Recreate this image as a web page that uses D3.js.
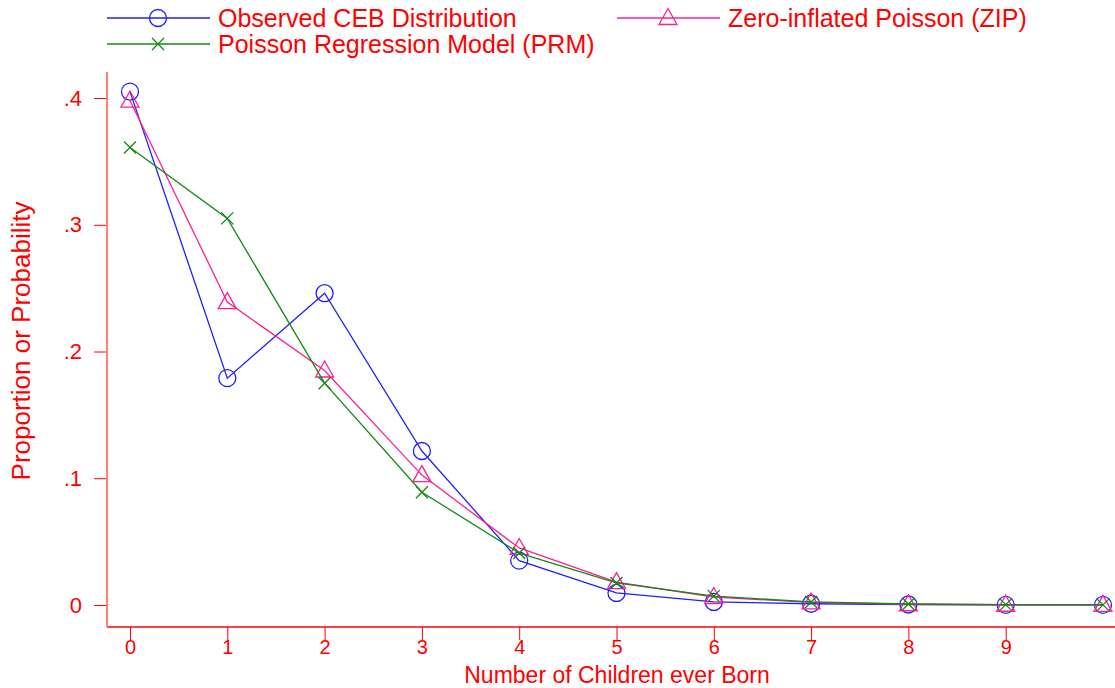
<!DOCTYPE html>
<html>
<head>
<meta charset="utf-8">
<script src="https://cdnjs.cloudflare.com/ajax/libs/d3/7.8.5/d3.min.js"></script>
<style>
  body { margin: 0; background: #fff; }
  text { font-family: "Liberation Sans", Arial, sans-serif; fill: #ff0000; }
</style>
</head>
<body>
<svg id="chart" width="1115" height="688"></svg>
<script>
// number of children ever born
const children = [0, 1, 2, 3, 4, 5, 6, 7, 8, 9, 10];
const observed = [0.405, 0.179, 0.246, 0.1215, 0.035, 0.0095, 0.0024, 0.001, 0.0004, 0.0001, 0.0001];
const zip      = [0.398, 0.239, 0.185, 0.1025, 0.045, 0.018, 0.0063, 0.002, 0.0006, 0.0002, 0.0001];
const prm      = [0.361, 0.305, 0.175, 0.089, 0.041, 0.0174, 0.007, 0.0024, 0.0008, 0.0003, 0.0001];
const xTicks = [0, 1, 2, 3, 4, 5, 6, 7, 8, 9];
const yTicks = [0, 0.1, 0.2, 0.3, 0.4];

const series = [
    { name: "Observed CEB Distribution", values: observed, color: "#2020ff", marker: "circle" },
    { name: "Zero-inflated Poisson (ZIP)", values: zip, color: "#ff1f8f", marker: "triangle" },
    { name: "Poisson Regression Model (PRM)", values: prm, color: "#138a13", marker: "x" }
];

const svg = d3.select("#chart");

const x = d3.scaleLinear().domain([0, 10]).range([130, 1103]);
const y = d3.scaleLinear().domain([0, 0.4]).range([605, 98]);

const axisColor = "#ff7f7f";

// axes
const xAxis = svg.append("g")
    .attr("transform", "translate(0,627)")
    .call(d3.axisBottom(x).tickValues(xTicks).tickSize(13).tickPadding(0).tickFormat(d3.format("d")));
xAxis.select(".domain").remove();
svg.append("line")
    .attr("x1", 107).attr("x2", 1115).attr("y1", 627).attr("y2", 627)
    .attr("stroke", "#ff0000").attr("stroke-width", 1.5);

const yAxis = svg.append("g")
    .attr("transform", "translate(107,0)")
    .call(d3.axisLeft(y).tickValues(yTicks).tickSize(13).tickPadding(12)
        .tickFormat(d => d === 0 ? "0" : d3.format(".1f")(d).replace(/^0/, "")));
yAxis.select(".domain").remove();
svg.append("line")
    .attr("x1", 107).attr("x2", 107).attr("y1", 72).attr("y2", 627)
    .attr("stroke", axisColor).attr("stroke-width", 2);

svg.selectAll(".tick line").attr("stroke", "#ff0000").attr("stroke-width", 1);
svg.selectAll(".tick text").style("font-size", "22px").attr("fill", "#ff0000");
xAxis.selectAll(".tick text").style("font-size", "20px");

// axis titles
svg.append("text")
    .attr("x", 617).attr("y", 683)
    .attr("text-anchor", "middle")
    .style("font-size", "23px")
    .text("Number of Children ever Born");

svg.append("text")
    .attr("transform", "translate(30,341) rotate(-90)")
    .attr("text-anchor", "middle")
    .style("font-size", "26px")
    .text("Proportion or Probability");

function drawMarker(g, type, color) {
    if (type === "circle") {
        g.append("circle").attr("r", 8.5)
            .attr("fill", "none").attr("stroke", color).attr("stroke-width", 1.3);
    } else if (type === "triangle") {
        g.append("path").attr("d", "M0,-9.5L9,6.5L-9,6.5Z")
            .attr("fill", "none").attr("stroke", color).attr("stroke-width", 1.3);
    } else {
        g.append("path").attr("d", "M-6,-6L6,6M-6,6L6,-6")
            .attr("fill", "none").attr("stroke", color).attr("stroke-width", 1.3);
    }
}

const line = d3.line()
    .x((d, i) => x(children[i]))
    .y(d => y(d));

series.forEach(s => {
    svg.append("path")
        .datum(s.values)
        .attr("fill", "none")
        .attr("stroke", s.color)
        .attr("stroke-width", 1.3)
        .attr("d", line);

    svg.append("g")
        .selectAll("g")
        .data(s.values)
        .enter()
        .append("g")
        .attr("transform", (d, i) => `translate(${x(children[i])},${y(d)})`)
        .each(function () { drawMarker(d3.select(this), s.marker, s.color); });
});

// legend
const legendPos = [
    { lx: 107, ly: 18 },
    { lx: 617, ly: 18 },
    { lx: 107, ly: 44 }
];

series.forEach((s, i) => {
    const p = legendPos[i];
    const g = svg.append("g").attr("transform", `translate(${p.lx},${p.ly})`);
    g.append("line")
        .attr("x1", 0).attr("x2", 103).attr("y1", 0).attr("y2", 0)
        .attr("stroke", s.color).attr("stroke-width", 1.3);
    const m = g.append("g").attr("transform", "translate(51,0)");
    drawMarker(m, s.marker, s.color);
    g.append("text")
        .attr("x", 111).attr("y", 9)
        .style("font-size", "25px")
        .text(s.name);
});
</script>
</body>
</html>
